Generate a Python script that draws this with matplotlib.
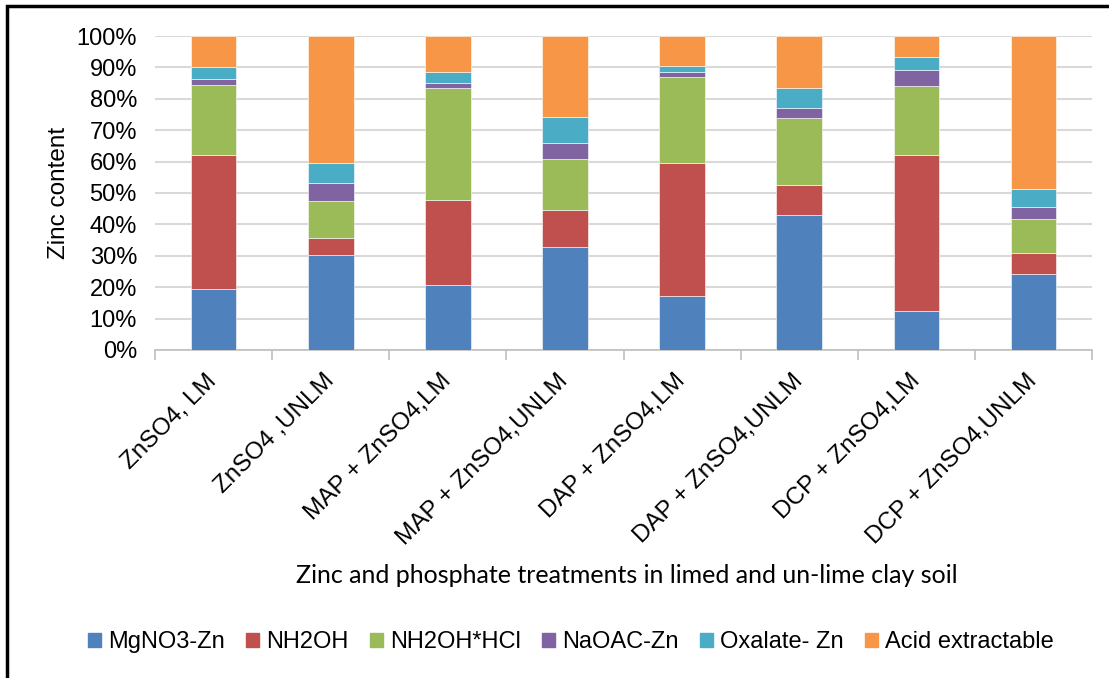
import matplotlib.pyplot as plt
import numpy as np
from matplotlib.patches import Rectangle

plt.rcParams['font.family'] = ['Liberation Sans', 'DejaVu Sans']

treatments = ['ZnSO4, LM', 'ZnSO4 ,UNLM', 'MAP + ZnSO4,LM', 'MAP + ZnSO4,UNLM',
              'DAP + ZnSO4,LM', 'DAP + ZnSO4,UNLM', 'DCP + ZnSO4,LM', 'DCP + ZnSO4,UNLM']

# share of each fraction in total zinc (%)
mgno3_zn = [19.5, 30.3, 20.6, 32.7, 17.1, 43.0, 12.4, 24.1]
nh2oh = [42.6, 5.5, 27.1, 11.9, 42.6, 9.7, 49.8, 6.9]
nh2oh_hcl = [22.3, 11.5, 35.8, 16.3, 27.2, 21.1, 22.0, 10.6]
naoac_zn = [2.0, 5.8, 1.6, 5.1, 1.5, 3.2, 4.9, 4.0]
oxalate_zn = [3.6, 6.6, 3.5, 8.3, 2.2, 6.3, 4.1, 5.7]
acid_extr = [10.0, 40.3, 11.4, 25.7, 9.4, 16.7, 6.8, 48.7]

fractions = ['MgNO3-Zn', 'NH2OH', 'NH2OH*HCl', 'NaOAC-Zn', 'Oxalate- Zn', 'Acid extractable']
colors = ['#4F81BD', '#C0504D', '#9BBB59', '#8064A2', '#4BACC6', '#F79646']

data = np.array([mgno3_zn, nh2oh, nh2oh_hcl, naoac_zn, oxalate_zn, acid_extr])
data = data / data.sum(axis=0) * 100

fig = plt.figure(figsize=(11.09, 6.78), dpi=100)
ax = fig.add_axes([0.1398, 0.4838, 0.8449, 0.4631])

x = np.arange(len(treatments))
bottom = np.zeros(len(treatments))
for vals, name, c in zip(data, fractions, colors):
    ax.bar(x, vals, 0.39, bottom=bottom, color=c, label=name,
           edgecolor='white', linewidth=0.4, zorder=3)
    bottom += vals

ax.set_xlim(-0.5, len(treatments) - 0.5)
ax.set_ylim(0, 100)
ax.set_yticks(np.arange(0, 101, 10))
ax.set_yticklabels([f'{v}%' for v in range(0, 101, 10)], fontsize=17)
ax.yaxis.grid(True, color='#d9d9d9', linewidth=1.5, zorder=0)
ax.tick_params(axis='y', length=0, pad=13)

ax.set_xticks(np.arange(-0.5, len(treatments)), minor=False)
ax.set_xticklabels([])
ax.set_xticks(x, minor=True)
ax.set_xticklabels(treatments, minor=True, rotation=45, ha='right', va='center',
                   rotation_mode='anchor', fontsize=17.5)
ax.tick_params(axis='x', which='major', length=7, color='#bfbfbf', width=1.2)
ax.tick_params(axis='x', which='minor', length=0, pad=20)

for s in ['left', 'right', 'top']:
    ax.spines[s].set_visible(False)
ax.spines['bottom'].set_color('#bfbfbf')
ax.spines['bottom'].set_linewidth(1.2)

ax.set_ylabel('Zinc content', fontsize=17.5, labelpad=5)
fig.text(0.565, 0.151, 'Zinc and phosphate treatments in limed and un-lime clay soil',
         ha='center', va='center', fontsize=18, family=['Lato', 'DejaVu Sans'])

handles = [Rectangle((0, 0), 1, 1, color=c) for c in colors]
fig.legend(handles, fractions, loc='center', bbox_to_anchor=(0.515, 0.053),
           ncol=6, frameon=False, fontsize=17, handlelength=0.55, handleheight=0.55,
           handletextpad=0.3, columnspacing=0.9)

# chart border
fig.patches.append(Rectangle((7 / 1109, -0.1), 1.2, 1 - 6 / 678 + 0.1,
                             transform=fig.transFigure, fill=False,
                             edgecolor='black', linewidth=2.5))

fig.savefig('out.png', dpi=100)
